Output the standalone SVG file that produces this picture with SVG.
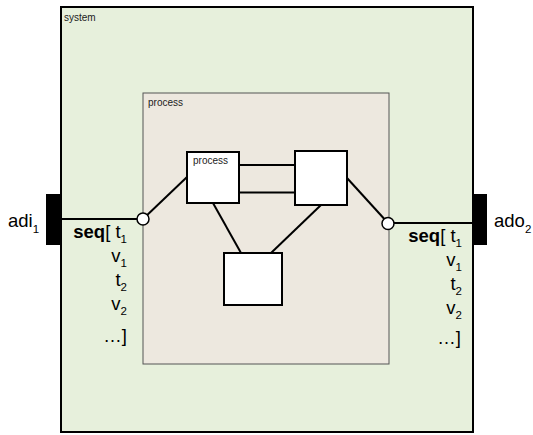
<svg xmlns="http://www.w3.org/2000/svg" width="533" height="435" viewBox="0 0 533 435">
<style>
text{font-family:"Liberation Sans",Arial,sans-serif;fill:#000}
.lbl{font-size:10px;fill:#222}
.big{font-size:18.5px}
.sub{font-size:11.5px}
.box{fill:#fff;stroke:#000;stroke-width:2}
.wire{stroke:#000;stroke-width:2;fill:none}
.port{fill:#000}
.pin{fill:#fff;stroke:#000;stroke-width:1.5}
</style>
<rect width="533" height="435" fill="#fff"/>
<g id="system">
<rect x="61" y="7" width="412" height="425" fill="#e7f0dc" stroke="#000" stroke-width="2"/>
<text class="lbl" x="64" y="21">system</text>
</g>
<g id="process-outer">
<rect x="143" y="93" width="246" height="271" fill="#ede8df" stroke="#555" stroke-width="1"/>
<text class="lbl" x="148" y="106">process</text>
</g>
<g id="connectors">
<line class="wire" x1="61" y1="219" x2="143" y2="219"/>
<line class="wire" x1="143" y1="219" x2="187" y2="177"/>
<line class="wire" x1="239" y1="165" x2="295" y2="165"/>
<line class="wire" x1="239" y1="192.5" x2="295" y2="192.5"/>
<line class="wire" x1="213" y1="203" x2="241" y2="253"/>
<line class="wire" x1="321" y1="205" x2="271" y2="253"/>
<line class="wire" x1="347" y1="178" x2="388" y2="223"/>
<line class="wire" x1="388" y1="223" x2="473" y2="223"/>
</g>
<g id="process1">
<rect class="box" x="187" y="152" width="52" height="51"/>
<text class="lbl" x="193" y="164">process</text>
</g>
<g id="process2">
<rect class="box" x="295" y="151" width="52" height="54"/>
</g>
<g id="process3">
<rect class="box" x="224" y="253" width="58" height="52"/>
</g>
<g id="pin-in"><circle class="pin" cx="143" cy="219" r="6"/></g>
<g id="pin-out"><circle class="pin" cx="388" cy="223.5" r="6"/></g>
<g id="adi">
<rect class="port" x="46" y="194" width="15" height="51"/>
<text class="big" x="8" y="227">adi<tspan class="sub" dy="6">1</tspan></text>
</g>
<g id="ado">
<rect class="port" x="473" y="194" width="14" height="51"/>
<text class="big" x="494" y="227">ado<tspan class="sub" dy="6">2</tspan></text>
</g>
<g id="seq-in" text-anchor="end">
<text class="big" x="127" y="238"><tspan font-weight="bold">seq</tspan>[ t<tspan class="sub" dy="5">1</tspan></text>
<text class="big" x="127" y="262">v<tspan class="sub" dy="5">1</tspan></text>
<text class="big" x="127" y="286">t<tspan class="sub" dy="5">2</tspan></text>
<text class="big" x="127" y="310">v<tspan class="sub" dy="5">2</tspan></text>
<text class="big" x="127" y="342">…]</text>
</g>
<g id="seq-out" text-anchor="end">
<text class="big" x="462" y="242"><tspan font-weight="bold">seq</tspan>[ t<tspan class="sub" dy="5">1</tspan></text>
<text class="big" x="462" y="266">v<tspan class="sub" dy="5">1</tspan></text>
<text class="big" x="462" y="290">t<tspan class="sub" dy="5">2</tspan></text>
<text class="big" x="462" y="314">v<tspan class="sub" dy="5">2</tspan></text>
<text class="big" x="461" y="344">…]</text>
</g>
</svg>
